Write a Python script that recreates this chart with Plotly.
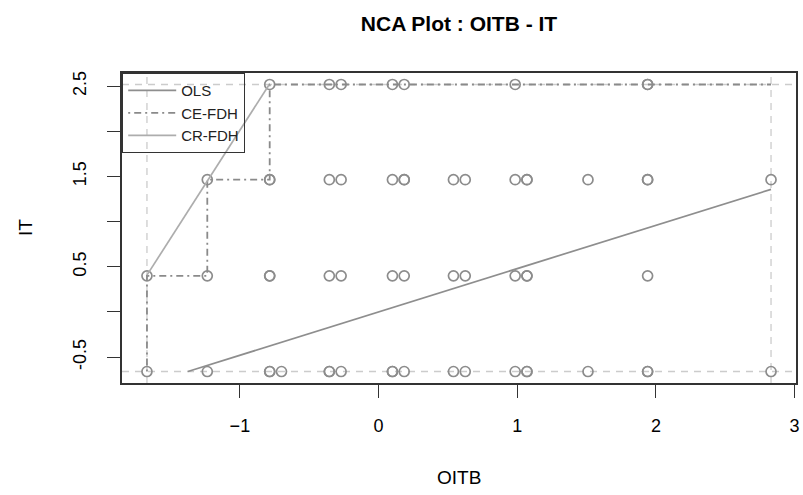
import numpy as np
import plotly.graph_objects as go

# ---- data (standardised scores) ----
IT_LEVELS = [-0.66, 0.40, 1.465, 2.52]
OITB_AT_IT_M066 = [-1.67, -1.235, -0.785, -0.785, -0.70, -0.355, -0.355, -0.27, 0.10, 0.10,
                   0.185, 0.54, 0.625, 0.985, 1.07, 1.07, 1.51, 1.94, 1.94, 2.83]
OITB_AT_IT_040 = [-1.67, -1.235, -0.785, -0.785, -0.355, -0.27, 0.10, 0.185, 0.54, 0.625,
                  0.985, 1.07, 1.07, 1.94]
OITB_AT_IT_1465 = [-1.235, -0.785, -0.785, -0.355, -0.27, 0.10, 0.185, 0.185, 0.54, 0.625,
                   0.985, 1.07, 1.07, 1.51, 1.94, 1.94, 2.83]
OITB_AT_IT_252 = [-0.785, -0.355, -0.27, 0.10, 0.185, 0.985, 1.94, 1.94]
OLS_INTERCEPT = 0.0
OLS_SLOPE = 0.48
X_TICKS = [-1, 0, 1, 2, 3]
Y_TICKS = [-0.5, 0.0, 0.5, 1.0, 1.5, 2.0, 2.5]
Y_TICK_TEXT = ["-0.5", "", "0.5", "", "1.5", "", "2.5"]

groups = [OITB_AT_IT_M066, OITB_AT_IT_040, OITB_AT_IT_1465, OITB_AT_IT_252]
x = np.concatenate([np.array(g, float) for g in groups])
y = np.concatenate([np.full(len(g), lvl) for g, lvl in zip(groups, IT_LEVELS)])

xmin, xmax = x.min(), x.max()
ymin, ymax = y.min(), y.max()
xr = [xmin - 0.04 * (xmax - xmin), xmax + 0.04 * (xmax - xmin)]
yr = [ymin - 0.04 * (ymax - ymin), ymax + 0.04 * (ymax - ymin)]

# CE-FDH step ceiling
ux = np.unique(x)
colmax = np.array([y[x == v].max() for v in ux])
ce_x, ce_y = [xmin], [ymin]
level = ymin
peers_x, peers_y = [], []
for v, m in zip(ux, colmax):
    if m > level:
        ce_x += [v, v]
        ce_y += [level, m]
        level = m
        peers_x.append(v)
        peers_y.append(m)
ce_x.append(xmax)
ce_y.append(level)

# CR-FDH: regression through the peers, clipped to the scope
a, b = np.polyfit(peers_x, peers_y, 1)
cr_x0 = max(xmin, (ymin - b) / a)
cr_x1 = min(xmax, (ymax - b) / a)
cr_x = [cr_x0, cr_x1]
cr_y = [a * cr_x0 + b, a * cr_x1 + b]

# OLS clipped to the scope
ols_x0 = max(xmin, (ymin - OLS_INTERCEPT) / OLS_SLOPE)
ols_x1 = min(xmax, (ymax - OLS_INTERCEPT) / OLS_SLOPE)
ols_x = [ols_x0, ols_x1]
ols_y = [OLS_INTERCEPT + OLS_SLOPE * v for v in ols_x]

FONT = "Liberation Sans, Arial, Helvetica, sans-serif"
W, H = 803, 495
ML, MR, MT, MB = 122, 7, 73, 112
PW, PH = W - ML - MR, H - MT - MB

fig = go.Figure()
fig.add_trace(go.Scatter(x=x, y=y, mode="markers", showlegend=False,
                         marker=dict(symbol="circle-open", size=10, color="#8c8c8c",
                                     line=dict(width=1.7, color="#8c8c8c"))))
fig.add_trace(go.Scatter(x=ols_x, y=ols_y, mode="lines", name="OLS",
                         line=dict(color="#8e8e8e", width=1.7)))
fig.add_trace(go.Scatter(x=ce_x, y=ce_y, mode="lines", name="CE-FDH",
                         line=dict(color="#8a8a8a", width=1.8, dash="2px,4px,7px,4px")))
fig.add_trace(go.Scatter(x=cr_x, y=cr_y, mode="lines", name="CR-FDH",
                         line=dict(color="#adadad", width=1.7)))

shapes = []
for v in (xmin, xmax):
    shapes.append(dict(type="line", xref="x", yref="paper", x0=v, x1=v, y0=0, y1=1,
                       line=dict(color="#cccccc", width=1.3, dash="7px,6px"), layer="below"))
for v in (ymin, ymax):
    shapes.append(dict(type="line", xref="paper", yref="y", x0=0, x1=1, y0=v, y1=v,
                       line=dict(color="#cccccc", width=1.3, dash="7px,6px"), layer="below"))

annotations = [
    dict(text="OITB", xref="paper", yref="paper", x=0.5, y=-(477 - (H - MB)) / PH,
         xanchor="center", yanchor="middle", showarrow=False,
         font=dict(family=FONT, size=19, color="#000000")),
    dict(text="IT", xref="paper", yref="paper", x=(25 - ML) / PW, y=0.5,
         xanchor="center", yanchor="middle", textangle=-90, showarrow=False,
         font=dict(family=FONT, size=19, color="#000000")),
]

fig.update_layout(
    width=W, height=H,
    margin=dict(l=ML, r=MR, t=MT, b=MB),
    paper_bgcolor="white", plot_bgcolor="white",
    font=dict(family=FONT, size=18, color="#000000"),
    shapes=shapes,
    annotations=annotations,
    title=dict(text="<b>NCA Plot : OITB - IT</b>", x=0.5, xref="paper", xanchor="center",
               y=1 - 24 / H, yref="container", yanchor="middle",
               font=dict(family=FONT, size=21, color="#000000")),
    legend=dict(x=0, y=1, xanchor="left", yanchor="top", bgcolor="rgba(0,0,0,0)",
                bordercolor="#333333", borderwidth=1.2, font=dict(size=15, color="#222222"),
                itemwidth=48, tracegroupgap=0),
    xaxis=dict(range=xr, tickvals=X_TICKS, ticks="outside", ticklen=13, tickwidth=1.4,
               tickcolor="#333333", showline=True, linecolor="#333333", linewidth=1.6,
               mirror=True, showgrid=False, zeroline=False, ticklabelstandoff=13,
               ticklabeloverflow="allow", automargin=False),
    yaxis=dict(range=yr, tickvals=Y_TICKS, ticktext=Y_TICK_TEXT, tickangle=-90,
               ticks="outside", ticklen=13, tickwidth=1.4, tickcolor="#333333",
               showline=True, linecolor="#333333", linewidth=1.6, mirror=True,
               showgrid=False, zeroline=False, ticklabelstandoff=14,
               ticklabeloverflow="allow", automargin=False),
)

fig.write_html("out.html", config={"displayModeBar": False},
               post_script="document.body.style.margin='0px';document.body.style.overflow='hidden';")
